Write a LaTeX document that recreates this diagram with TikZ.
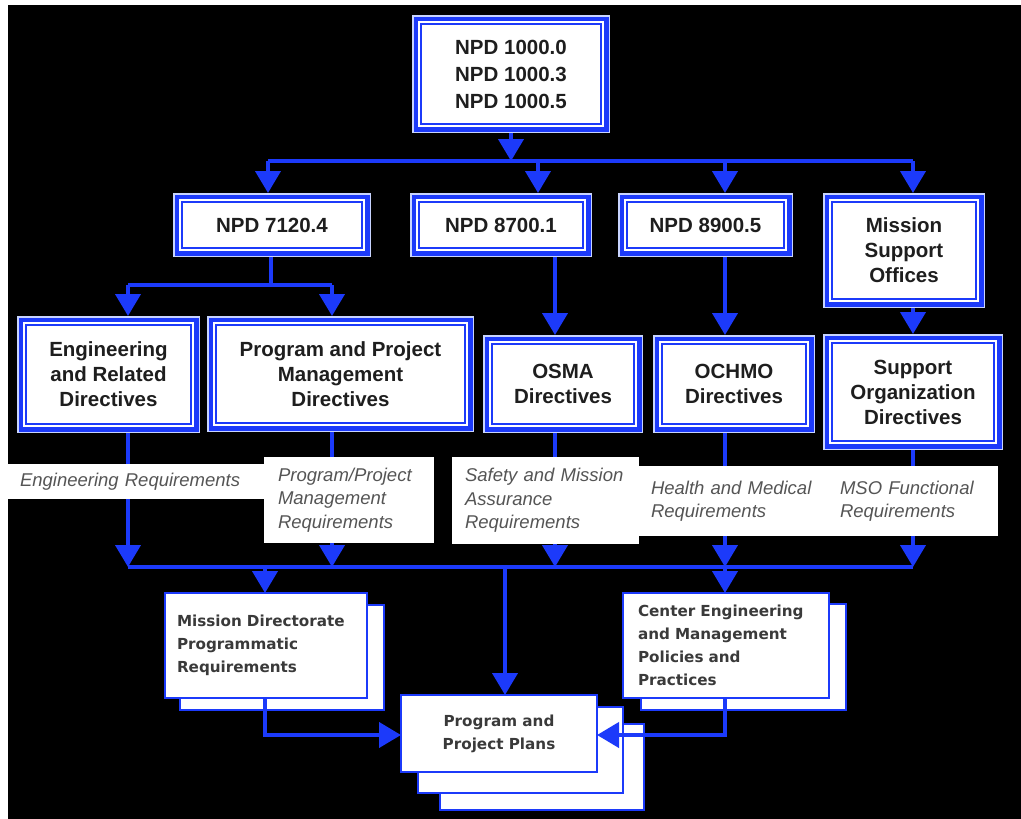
\documentclass[tikz,border=0pt]{standalone}
\usepackage{fontspec}
\setmainfont{Liberation Sans}
\newfontfamily\dejavu{DejaVu Sans}
\usetikzlibrary{arrows.meta}
\definecolor{nblue}{RGB}{28,58,250}
\definecolor{lblue}{RGB}{200,212,255}
\definecolor{txt}{RGB}{30,30,30}
\definecolor{btxt}{RGB}{58,58,58}
\definecolor{ltxt}{RGB}{85,85,85}
\pgfdeclarelayer{back}
\pgfdeclarelayer{wires}
\pgfsetlayers{back,wires,main}
\newcommand\nohyph{\hyphenpenalty=10000\relax\exhyphenpenalty=10000\relax}
\tikzset{
  dbox/.style={draw=nblue, line width=2pt, fill=white, inner sep=0pt, outer sep=0pt,
    align=center, text=txt, font=\fontsize{20.5}{25}\selectfont\bfseries},
  pbox/.style={draw=nblue, line width=2pt, fill=white, inner sep=0pt, outer sep=0pt,
    text=btxt, font=\dejavu\bfseries\fontsize{15.2}{23}\selectfont},
  lbox/.style={fill=white, inner sep=0pt, outer sep=0pt, align=left, text=ltxt,
    font=\fontsize{18.5}{23.5}\selectfont\itshape, execute at begin node=\nohyph},
  wire/.style={draw=nblue, line width=4pt},
  arr/.style={wire, -{Triangle[width=25pt,length=22pt]}},
  dshort/.style={shorten >=9pt},
}
\newcommand\Dframe[1]{%
  \draw[lblue,line width=1.5pt] ([shift={(-8.25pt,8.25pt)}]#1.north west) rectangle ([shift={(8.25pt,-8.25pt)}]#1.south east);
  \draw[nblue,line width=4.5pt] ([shift={(-5.25pt,5.25pt)}]#1.north west) rectangle ([shift={(5.25pt,-5.25pt)}]#1.south east);
  \draw[white,line width=2pt] ([shift={(-2pt,2pt)}]#1.north west) rectangle ([shift={(2pt,-2pt)}]#1.south east);
}
\newcommand\DBox[7][]{%
  \node[dbox,#1, minimum width={(#5-#3-18)*1pt}, minimum height={(#6-#4-18)*1pt}] (#2) at ({(#3+#5)/2},{(#4+#6)/2}) {#7};
  \Dframe{#2}}
\newcommand\RBox[7][]{%
  \node[#1, minimum width={(#5-#3)*1pt}, minimum height={(#6-#4)*1pt}] (#2) at ({(#3+#5)/2},{(#4+#6)/2}) {#7};}
\begin{document}
\begin{tikzpicture}[x=1pt,y=-1pt]
\useasboundingbox (0,0) rectangle (1021,819);
\begin{pgfonlayer}{back}
  \fill[white] (0,0) rectangle (1021,819);
  \fill[black] (8,5) rectangle (1021,819);
\end{pgfonlayer}

% double-framed boxes
\DBox[font=\fontsize{20.5}{27}\selectfont\bfseries]{top}{412}{15}{610}{133}{NPD 1000.0\\NPD 1000.3\\NPD 1000.5}
\DBox{npd7}{173}{193}{371}{257}{NPD 7120.4}
\DBox{npd87}{410}{193}{592}{257}{NPD 8700.1}
\DBox{npd89}{618}{193}{793}{257}{NPD 8900.5}
\DBox{mso}{823}{193}{985}{308}{Mission\\Support\\Offices}
\DBox{eng}{17}{316}{200}{433}{Engineering\\and Related\\Directives}
\DBox{ppm}{207}{316}{474}{432}{Program and Project\\Management\\Directives}
\DBox{osma}{483}{335}{643}{433}{OSMA\\Directives}
\DBox{ochmo}{653}{335}{815}{433}{OCHMO\\Directives}
\DBox{sod}{823}{334}{1003}{450}{Support\\Organization\\Directives}

% requirement labels
\RBox[lbox, text width=232pt, inner xsep=12pt]{ereq}{8}{464}{264}{499}{Engineering Requirements}
\RBox[lbox, text width=142pt, inner xsep=14pt]{preq}{264}{457}{434}{543}{Program/Project\\Management\\Requirements}
\RBox[lbox, text width=161pt, inner xsep=13pt]{sreq}{452}{457}{639}{544}{Safety and Mission\\Assurance\\Requirements}
\RBox[lbox, text width=162pt, inner xsep=13pt]{hreq}{638}{466}{826}{536}{Health and Medical\\Requirements}
\RBox[lbox, text width=144pt, inner xsep=14pt]{mreq}{826}{466}{998}{536}{MSO Functional\\Requirements}

% lower boxes
\RBox[pbox]{md2}{180}{605}{384}{710}{}
\RBox[pbox, align=left, text width=178pt, inner xsep=12pt]{md}{165}{593}{367}{698}{Mission Directorate\\Programmatic\\Requirements}
\RBox[pbox]{ce2}{641}{604}{846}{710}{}
\RBox[pbox, align=left, text width=176pt, inner xsep=15pt]{ce}{623}{593}{829}{698}{Center Engineering\\and Management\\Policies and\\Practices}
\RBox[pbox]{ppp3}{440}{724}{644}{810}{}
\RBox[pbox]{ppp2}{418}{707}{623}{793}{}
\RBox[pbox, align=center]{ppp}{401}{695}{597}{772}{Program and\\Project Plans}

% connector coordinates
\coordinate (b1L) at (268,161);
\coordinate (b1R) at (913,161);
\coordinate (t87) at (538,161);
\coordinate (t89) at (725,161);
\coordinate (s7) at (271,285);
\coordinate (s7L) at (128,285);
\coordinate (s7R) at (332,285);
\coordinate (b2L) at (128,567);
\coordinate (b2R) at (913,567);
\coordinate (c33) at (332,567);
\coordinate (c55) at (555,567);
\coordinate (c72) at (725,567);
\coordinate (c26) at (265,567);
\coordinate (c50) at (505,567);
\coordinate (j1) at (265,735);
\coordinate (j2) at (725,735);

\begin{pgfonlayer}{wires}
  \draw[wire] (b1L) -- (b1R);
  \draw[arr] (top.south) -- (top.south |- b1L);
  \draw[arr,dshort] (b1L) -- (b1L |- npd7.north);
  \draw[arr,dshort] (t87) -- (t87 |- npd87.north);
  \draw[arr,dshort] (t89) -- (t89 |- npd89.north);
  \draw[arr,dshort] (b1R) -- (b1R |- mso.north);
  \draw[wire] (npd7.south -| s7) -- (s7);
  \draw[wire] (s7L) -- (s7R);
  \draw[arr,dshort] (s7L) -- (s7L |- eng.north);
  \draw[arr,dshort] (s7R) -- (s7R |- ppm.north);
  \draw[arr,dshort] (c55 |- npd87.south) -- (c55 |- osma.north);
  \draw[arr,dshort] (c72 |- npd89.south) -- (c72 |- ochmo.north);
  \draw[arr,dshort] (b2R |- mso.south) -- (b2R |- sod.north);
  \draw[wire] (b2L) -- (b2R);
  \draw[arr] (b2L |- eng.south) -- (b2L);
  \draw[arr] (c33 |- ppm.south) -- (c33);
  \draw[arr] (c55 |- osma.south) -- (c55);
  \draw[arr] (c72 |- ochmo.south) -- (c72);
  \draw[arr] (b2R |- sod.south) -- (b2R);
  \draw[arr] (c26) -- (c26 |- md.north);
  \draw[arr] (c50) -- (c50 |- ppp.north);
  \draw[arr] (c72) -- (c72 |- ce.north);
\end{pgfonlayer}
\draw[arr] (md.south -| j1) -- (j1) -- (j1 -| ppp.west);
\draw[arr] (ce.south -| j2) -- (j2) -- (j2 -| ppp.east);
\end{tikzpicture}
\end{document}
